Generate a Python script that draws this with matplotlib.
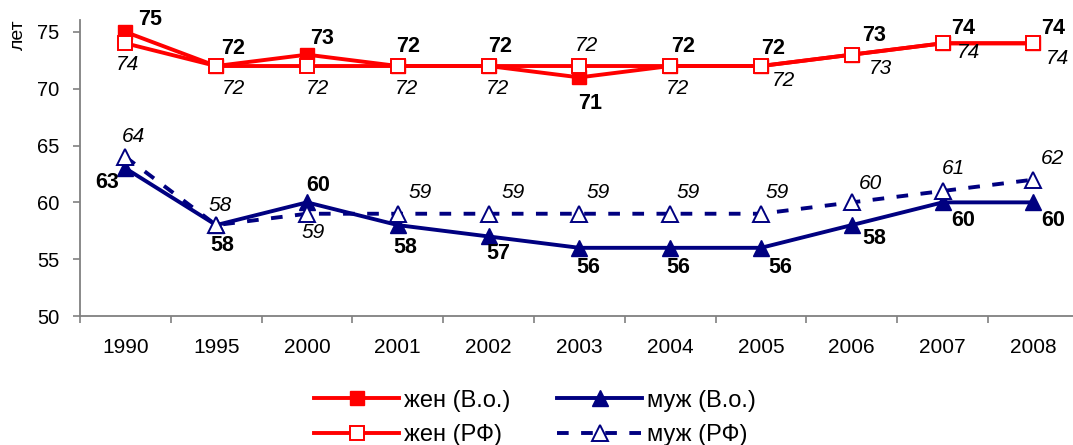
import matplotlib
matplotlib.use("Agg")
import matplotlib.pyplot as plt
from matplotlib.ticker import FixedLocator, NullFormatter

plt.rcParams['font.family'] = ['Liberation Sans', 'DejaVu Sans']

years = ["1990", "1995", "2000", "2001", "2002", "2003", "2004", "2005", "2006", "2007", "2008"]
fem_vo = [75, 72, 73, 72, 72, 71, 72, 72, 73, 74, 74]
fem_rf = [74, 72, 72, 72, 72, 72, 72, 72, 73, 74, 74]
male_vo = [63, 58, 60, 58, 57, 56, 56, 56, 58, 60, 60]
male_rf = [64, 58, 59, 59, 59, 59, 59, 59, 60, 61, 62]

# label offsets in pixels (dx, dy)
off_fem_vo = [(25, 12), (17, 18), (15, 16), (10, 20), (12, 20), (11, -26), (13, 20), (12, 18), (22, 19), (21, 15), (20, 15)]
off_fem_rf = [(2, -21), (17, -22), (10, -22), (9, -22), (9, -22), (7, 21), (7, -22), (22, -14), (29, -14), (26, -9), (24, -15)]
off_male_vo = [(-18, -14), (6, -20), (11, 17), (7, -22), (10, -17), (9, -20), (8, -20), (19, -20), (22, -13), (21, -18), (20, -18)]
off_male_rf = [(8, 20), (4, 20), (6, -19), (22, 21), (25, 21), (19, 21), (18, 21), (16, 21), (19, 19), (11, 23), (19, 21)]

W, H = 1073, 445
fig = plt.figure(figsize=(W / 100, H / 100), dpi=100)
ax_left = 80 / W
ax_bottom = (H - 316) / H
ax_height = (316 - 20) / H
ax_width = 11 * 90.8 / W
ax = fig.add_axes([ax_left, ax_bottom, ax_width, ax_height])

x = list(range(len(years)))
red = '#FF0000'
navy = '#000080'
lw = 2.8

l1, = ax.plot(x, fem_vo, color=red, lw=lw, marker='s', ms=10.5, mfc=red, mec=red, zorder=3)
l2, = ax.plot(x, fem_rf, color=red, lw=lw, marker='s', ms=10.5, mfc='white', mec=red, mew=1.4, zorder=4)
l3, = ax.plot(x, male_vo, color=navy, lw=lw, marker='^', ms=11.5, mfc=navy, mec=navy, zorder=3)
l4, = ax.plot(x, male_rf, color=navy, lw=lw, marker='^', ms=11.5, mfc='white', mec=navy, mew=1.4,
              dashes=(3, 3.2), zorder=4)

def labels(vals, offs, style):
    for i, (v, (dx, dy)) in enumerate(zip(vals, offs)):
        if style == 'bold':
            ax.annotate(str(v), (i, v), xytext=(dx, dy), textcoords='offset pixels',
                        ha='center', va='center', fontsize=15.5, fontweight='bold', color='black', zorder=6)
        else:
            ax.annotate(str(v), (i, v), xytext=(dx, dy), textcoords='offset pixels',
                        ha='center', va='center', fontsize=15, fontstyle='italic', color='black', zorder=6)

labels(fem_vo, off_fem_vo, 'bold')
labels(fem_rf, off_fem_rf, 'italic')
labels(male_vo, off_male_vo, 'bold')
labels(male_rf, off_male_rf, 'italic')

ax.set_xlim(-0.5, len(years) - 0.5)
ax.set_ylim(50, 76.05)
ax.set_yticks([50, 55, 60, 65, 70, 75])
ax.set_xticks(x)
ax.set_xticklabels(years, fontsize=15)
ax.xaxis.set_minor_locator(FixedLocator([i + 0.5 for i in range(-1, len(years))]))
ax.xaxis.set_minor_formatter(NullFormatter())
ax.tick_params(axis='x', which='major', length=0, pad=16)
ax.tick_params(axis='x', which='minor', length=5, width=1.2, color='#808080', direction='out')
ax.tick_params(axis='y', length=5, width=1.2, color='#808080', direction='out', labelsize=14.5, pad=10)

for s in ['top', 'right']:
    ax.spines[s].set_visible(False)
for s in ['left', 'bottom']:
    ax.spines[s].set_color('#808080')
    ax.spines[s].set_linewidth(1.3)

fig.text(18 / W, 1 - 35 / H, 'лет', rotation=90, ha='center', va='center', fontsize=14)

leg = fig.legend([l1, l2, l3, l4], ['жен (В.о.)', 'жен (РФ)', 'муж (В.о.)', 'муж (РФ)'],
                 ncol=2, loc='center', bbox_to_anchor=(535 / W, 1 - 418 / H),
                 frameon=False, fontsize=17, handlelength=3.6, handletextpad=0.2,
                 columnspacing=2.0, labelspacing=0.55)

fig.savefig('out.png', dpi=100)
